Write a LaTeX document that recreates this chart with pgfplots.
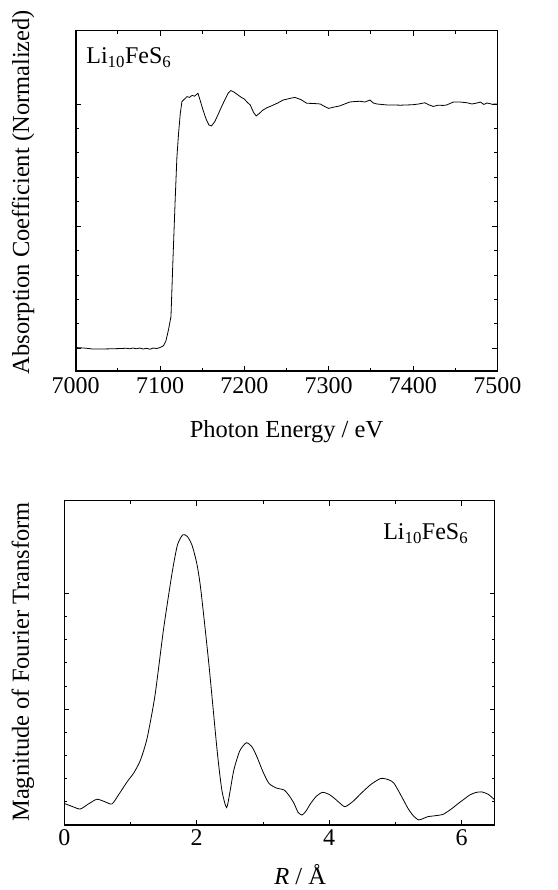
\documentclass[border=0pt]{standalone}
\usepackage{fontspec}
\setmainfont{Liberation Serif}
\usepackage{pgfplots}
\pgfplotsset{compat=1.18}

\pgfplotsset{
  xafsframe/.style={
    scale only axis,
    anchor=south west,
    axis line style={line width=1.6pt},
    tick align=inside,
    major tick length=5pt,
    minor tick length=3pt,
    every tick/.style={black, line width=0.8pt},
    tick label style={font=\fontsize{24}{26}\selectfont},
    /pgf/number format/assume math mode=true,
    label style={font=\fontsize{24.5}{26}\selectfont},
    yticklabels={},
    clip=true,
  },
}

\begin{document}
\begin{tikzpicture}
\path[use as bounding box] (0pt,0pt) rectangle (557pt,890pt);

% XANES spectrum
\begin{axis}[
  xafsframe,
  at={(75.7pt,519pt)},
  width=421.6pt, height=340.3pt,
  xmin=7000, xmax=7500, ymin=-0.093, ymax=1.30,
  xtick={7000,7100,...,7500}, minor x tick num=1,
  ytick={0,0.5,1}, minor y tick num=4,
  xticklabel style={/pgf/number format/1000 sep={}, yshift=-3pt},
  xlabel={Photon Energy / eV},
  xlabel style={at={(axis description cs:0.5,-0.179)}, anchor=center},
  ylabel={Absorption Coefficient (Normalized)},
  ylabel style={at={(axis description cs:-0.125,0.526)}, anchor=center},
]
\addplot[black, line width=0.8pt] coordinates {
  (7000,0.003) (7010,0.001) (7020,-0.003) (7030,-0.003) (7045,-0.002)
  (7060,0.000) (7064,-0.002) (7068,0.001) (7072,-0.002) (7076,0.001)
  (7080,-0.003) (7084,0.000) (7088,-0.004) (7092,0.001) (7096,-0.001)
  (7100,0.003) (7104,0.010) (7107,0.030) (7110,0.075) (7113,0.130)
  (7115,0.330) (7118,0.610) (7120,0.780) (7122,0.880) (7124,0.960)
  (7126,1.010) (7129,1.020) (7132,1.030) (7135,1.027) (7138,1.035)
  (7141,1.032) (7145,1.044) (7148,1.010) (7151,0.975) (7155,0.935)
  (7158,0.914) (7161,0.910) (7165,0.928) (7169,0.958) (7173,0.989)
  (7177,1.018) (7181,1.045) (7184,1.055) (7188,1.048) (7192,1.038)
  (7196,1.028) (7200,1.020) (7204,1.005) (7207,0.996) (7211,0.965)
  (7214,0.951) (7218,0.962) (7222,0.975) (7227,0.985) (7232,0.992)
  (7239,1.003) (7246,1.016) (7253,1.022) (7260,1.027) (7267,1.018)
  (7274,1.003) (7282,1.002) (7290,1.000) (7295,0.990) (7300,0.982)
  (7306,0.987) (7313,0.992) (7319,1.000) (7325,1.008) (7331,1.010)
  (7337,1.011) (7343,1.008) (7349,1.016) (7353,1.004) (7357,1.000)
  (7363,0.998) (7369,0.996) (7377,0.996) (7385,0.995) (7393,0.996)
  (7400,0.997) (7407,1.000) (7414,1.005) (7419,0.996) (7424,0.990)
  (7430,0.995) (7436,0.994) (7440,0.996) (7444,1.002) (7448,1.008)
  (7456,1.008) (7464,1.005) (7470,1.000) (7476,1.004) (7480,1.008)
  (7484,0.998) (7488,1.004) (7494,0.999) (7500,1.000)
};
\node[anchor=base west, font=\fontsize{24}{26}\selectfont]
  at (axis description cs:0.017,0.904) {Li\textsubscript{10}FeS\textsubscript{6}};
\end{axis}

% Fourier transform
\begin{axis}[
  xafsframe,
  at={(64.3pt,65pt)},
  width=430.4pt, height=324.3pt,
  xmin=0, xmax=6.5, ymin=0, ymax=14,
  xtick={0,2,4,6}, minor x tick num=1,
  ytick={0,5,10}, minor y tick num=4,
  xticklabel style={yshift=-1pt},
  xlabel={\textit{R} / Å},
  xlabel style={at={(axis description cs:0.548,-0.152)}, anchor=center},
  ylabel={Magnitude of Fourier Transform},
  ylabel style={at={(axis description cs:-0.096,0.503)}, anchor=center},
]
\addplot[black, line width=0.8pt, smooth, tension=0.4] coordinates {
  (0.00,0.93) (0.12,0.80) (0.24,0.69) (0.36,0.90) (0.49,1.11)
  (0.60,1.02) (0.72,0.91) (0.83,1.35) (0.95,1.87) (1.05,2.25)
  (1.15,2.80) (1.25,3.74) (1.37,5.60) (1.50,8.48) (1.63,10.92)
  (1.71,12.10) (1.79,12.53) (1.86,12.45) (1.93,12.07) (2.00,11.30)
  (2.06,10.20) (2.18,7.04) (2.31,3.16) (2.38,1.50) (2.45,0.75)
  (2.50,1.40) (2.56,2.37) (2.65,3.20) (2.75,3.55) (2.84,3.35)
  (2.92,2.87) (3.00,2.30) (3.09,1.80) (3.20,1.60) (3.32,1.51)
  (3.40,1.25) (3.47,0.93) (3.53,0.55) (3.59,0.43) (3.65,0.60)
  (3.72,0.93) (3.81,1.25) (3.90,1.41) (4.00,1.32) (4.08,1.15)
  (4.16,0.95) (4.24,0.79) (4.36,1.02) (4.48,1.36) (4.63,1.75)
  (4.78,2.01) (4.90,1.95) (4.98,1.80) (5.09,1.25) (5.19,0.72)
  (5.27,0.40) (5.35,0.22) (5.42,0.28) (5.49,0.36) (5.60,0.40)
  (5.72,0.46) (5.84,0.68) (5.95,0.93) (6.04,1.12) (6.12,1.29)
  (6.21,1.40) (6.30,1.43) (6.40,1.33) (6.49,1.11)
};
\node[anchor=base east, font=\fontsize{24}{26}\selectfont]
  at (axis description cs:0.9466,0.879) {Li\textsubscript{10}FeS\textsubscript{6}};
\end{axis}
\end{tikzpicture}
\end{document}
